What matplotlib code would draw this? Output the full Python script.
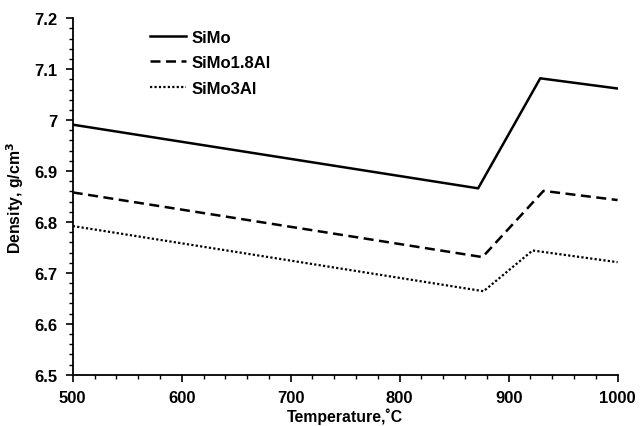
import matplotlib
matplotlib.use("Agg")
from matplotlib import pyplot as plt
from matplotlib.ticker import MultipleLocator, FuncFormatter

plt.rcParams['font.family'] = ['Liberation Sans', 'DejaVu Sans']
plt.rcParams['font.weight'] = 'bold'

# data
temp_simo = [500, 872, 929, 1000]
dens_simo = [6.991, 6.866, 7.082, 7.062]

temp_simo18 = [500, 876, 932, 1000]
dens_simo18 = [6.858, 6.731, 6.861, 6.843]

temp_simo3 = [500, 877, 922, 1000]
dens_simo3 = [6.792, 6.664, 6.744, 6.721]

labels = ['SiMo', 'SiMo1.8Al', 'SiMo3Al']

fig = plt.figure(figsize=(6.44, 4.27), dpi=100)
ax = fig.add_axes([0.113, 0.120, 0.846, 0.835])

ax.plot(temp_simo, dens_simo, color='black', lw=1.8, ls='-', label=labels[0])
ax.plot(temp_simo18, dens_simo18, color='black', lw=1.8, ls=(0, (4, 2.2)), label=labels[1])
ax.plot(temp_simo3, dens_simo3, color='black', lw=1.6, ls=(0, (1, 1)), label=labels[2])

ax.set_xlim(500, 1000)
ax.set_ylim(6.5, 7.2)
ax.xaxis.set_major_locator(MultipleLocator(100))
ax.xaxis.set_minor_locator(MultipleLocator(20))
ax.yaxis.set_major_locator(MultipleLocator(0.1))
ax.yaxis.set_minor_locator(MultipleLocator(0.02))
ax.yaxis.set_major_formatter(FuncFormatter(lambda v, p: f"{v:.1f}".rstrip('0').rstrip('.')))

ax.tick_params(axis='both', which='major', direction='out', length=5, width=1.2, labelsize=12, pad=6)
ax.tick_params(axis='both', which='minor', direction='out', length=3, width=1)
for lab in ax.get_xticklabels() + ax.get_yticklabels():
    lab.set_fontweight('bold')

ax.spines['top'].set_visible(False)
ax.spines['right'].set_visible(False)
ax.spines['left'].set_linewidth(1.3)
ax.spines['bottom'].set_linewidth(1.3)

ax.set_xlabel('Temperature,˚C', fontsize=11.4, fontweight='bold', labelpad=1.5)
ax.set_ylabel('Density, g/cm$^\\mathbf{3}$', fontsize=11.4, fontweight='bold', labelpad=6)

leg = ax.legend(loc='upper left', bbox_to_anchor=(0.115, 1.01), frameon=False,
                fontsize=12, handlelength=2.15, handletextpad=0.3, labelspacing=0.63)
for t in leg.get_texts():
    t.set_fontweight('bold')

fig.savefig('out.png', dpi=100)
